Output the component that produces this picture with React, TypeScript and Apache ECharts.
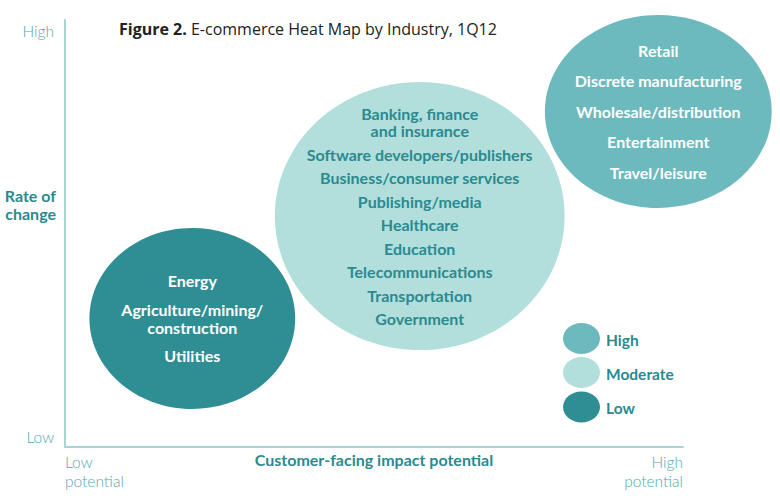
import React, { useEffect, useRef } from "react";
import * as echarts from "echarts";

// ---- data ----
const levels = ["Low", "Moderate", "High"];
// bubble centre (impact potential, rate of change) and extent, in axis units (0-100)
const bubbleX = [20.6, 57.4, 96.0];
const bubbleY = [30.1, 54.1, 78.6];
const bubbleW = [33.3, 46.9, 36.7];
const bubbleH = [42.4, 62.8, 45.2];
const lowIndustries = ["Energy", "Agriculture/mining/\nconstruction", "Utilities"];
const moderateIndustries = [
  "Banking, finance\nand insurance",
  "Software developers/publishers",
  "Business/consumer services",
  "Publishing/media",
  "Healthcare",
  "Education",
  "Telecommunications",
  "Transportation",
  "Government",
];
const highIndustries = [
  "Retail",
  "Discrete manufacturing",
  "Wholesale/distribution",
  "Entertainment",
  "Travel/leisure",
];
const industriesByLevel = [lowIndustries, moderateIndustries, highIndustries];
const xTickLabels = ["Low\npotential", "High\npotential"];
const yTickLabels = ["Low", "High"];
const legendLabels = ["High", "Moderate", "Low"];

// ---- styles ----
const FILL: Record<string, string> = { Low: "#2f8e93", Moderate: "#b2dfdc", High: "#6cbabd" };
const TEXT_FILL: Record<string, string> = { Low: "#ffffff", Moderate: "#2a8a90", High: "#ffffff" };
const ITEM_STEP: Record<string, number> = { Low: 28.5, Moderate: 23.5, High: 30.5 };
const INNER_STEP: Record<string, number> = { Low: 18, Moderate: 17.5, High: 17 };
const TEAL = "#2a8a90";
const LIGHT_TEAL = "#4fa9ad";
const AXIS = "#a7d6d6";
const FONT = "Lato, 'Open Sans', sans-serif";

export default function App() {
  const ref = useRef<HTMLDivElement>(null);
  useEffect(() => {
    if (!ref.current) return;
    const chart = echarts.init(ref.current, null, { renderer: "svg" });
    const data = levels.map((lv, i) => [bubbleX[i], bubbleY[i], bubbleW[i], bubbleH[i], i]);

    const renderItem = (params: any, api: any) => {
      const idx = api.value(4);
      const lv = levels[idx];
      const c = api.coord([api.value(0), api.value(1)]);
      const s = api.size([api.value(2), api.value(3)]);
      const items = industriesByLevel[idx];
      const blocks: { t: string; y: number }[] = [];
      let cursor = 0;
      let last = 0;
      items.forEach((it) => {
        const n = it.split("\n").length;
        const lastLine = cursor + (n - 1) * INNER_STEP[lv];
        blocks.push({ t: it, y: (cursor + lastLine) / 2 });
        last = lastLine;
        cursor = lastLine + ITEM_STEP[lv];
      });
      const off = last / 2;
      return {
        type: "group",
        children: [
          {
            type: "ellipse",
            shape: { cx: c[0], cy: c[1], rx: s[0] / 2, ry: s[1] / 2 },
            style: { fill: FILL[lv] },
          },
          ...blocks.map((b) => ({
            type: "text",
            x: c[0],
            y: c[1] + b.y - off,
            style: {
              text: b.t,
              align: "center",
              verticalAlign: "middle",
              fill: TEXT_FILL[lv],
              fontFamily: FONT,
              fontWeight: "bold",
              fontSize: 16,
              lineHeight: INNER_STEP[lv],
            },
          })),
        ],
      };
    };

    const legendY = [338.5, 372.5, 407];
    const legendGraphics: any[] = [];
    legendLabels.forEach((lab, i) => {
      legendGraphics.push({
        type: "ellipse",
        shape: { cx: 581.5, cy: legendY[i], rx: 18.5, ry: 15.5 },
        style: { fill: FILL[lab] },
      });
      legendGraphics.push({
        type: "text",
        x: 606,
        y: legendY[i] + 1,
        style: {
          text: lab,
          fill: TEAL,
          fontFamily: FONT,
          fontWeight: "bold",
          fontSize: 15.5,
          verticalAlign: "middle",
        },
      });
    });

    chart.setOption({
      animation: false,
      title: {
        text: "{b|Figure 2.} E-commerce Heat Map by Industry, 1Q12",
        left: 119,
        top: 21,
        padding: 0,
        textStyle: {
          fontFamily: "'Open Sans', sans-serif",
          fontSize: 16,
          fontWeight: "normal",
          color: "#222222",
          rich: {
            b: { fontFamily: "'Open Sans', sans-serif", fontSize: 16, fontWeight: "bold", color: "#222222" },
          },
        },
      },
      grid: { left: 65, right: 97, top: 20, bottom: 49, outerBoundsMode: "none", containLabel: false },
      xAxis: {
        type: "value",
        min: 0,
        max: 100,
        interval: 100,
        splitLine: { show: false },
        axisTick: { show: false },
        axisLine: { show: true, lineStyle: { color: AXIS, width: 2 } },
        axisLabel: {
          formatter: (v: number) => (v === 0 ? xTickLabels[0] : xTickLabels[1]),
          alignMinLabel: "left",
          alignMaxLabel: "right",
          color: LIGHT_TEAL,
          fontFamily: FONT,
          fontWeight: 300,
          fontSize: 15.5,
          lineHeight: 19,
          margin: 5,
        },
        name: "Customer-facing impact potential",
        nameLocation: "middle",
        nameGap: 4,
        nameMoveOverlap: false,
        nameTextStyle: { color: TEAL, fontFamily: FONT, fontWeight: "bold", fontSize: 16, verticalAlign: "top" },
      },
      yAxis: {
        type: "value",
        min: 0,
        max: 100,
        interval: 100,
        splitLine: { show: false },
        axisTick: { show: false },
        axisLine: { show: true, lineStyle: { color: AXIS, width: 2 } },
        axisLabel: {
          formatter: (v: number) => (v === 0 ? "{lo|" + yTickLabels[0] + "}" : "{hi|" + yTickLabels[1] + "}"),
          margin: 11,
          rich: {
            hi: { color: LIGHT_TEAL, fontFamily: FONT, fontWeight: 300, fontSize: 15.5, padding: [21, 0, 0, 0] },
            lo: { color: LIGHT_TEAL, fontFamily: FONT, fontWeight: 300, fontSize: 15.5, padding: [0, 0, 21, 0] },
          },
        },
        name: "{a|Rate of}\n{a|change}\n{s| }",
        nameLocation: "middle",
        nameRotate: 0,
        nameGap: 9,
        nameMoveOverlap: false,
        nameTextStyle: {
          color: TEAL,
          fontFamily: FONT,
          fontWeight: "bold",
          fontSize: 16,
          rich: {
            a: { color: TEAL, fontFamily: FONT, fontWeight: "bold", fontSize: 16, lineHeight: 18 },
            s: { fontSize: 10, lineHeight: 58 },
          },
        },
      },
      graphic: legendGraphics,
      series: [
        {
          type: "custom",
          renderItem,
          data,
          clip: false,
          encode: { x: 0, y: 1 },
          silent: true,
        },
      ],
    });
    return () => chart.dispose();
  }, []);
  return (
    <div
      ref={ref}
      style={{ position: "fixed", left: 0, top: 0, width: 780, height: 496, background: "#ffffff" }}
    />
  );
}
